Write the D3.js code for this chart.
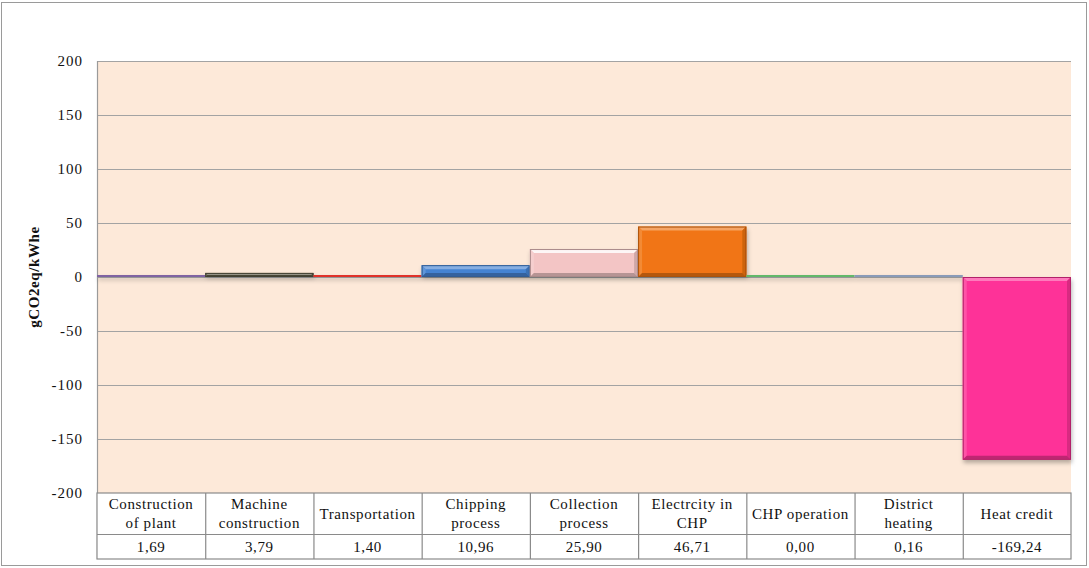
<!DOCTYPE html>
<html>
<head>
<meta charset="utf-8">
<script src="https://cdn.jsdelivr.net/npm/d3@7"></script>
<style>
  html, body { margin: 0; padding: 0; background: #fff; }
  svg { display: block; }
  text { font-family: "Liberation Serif", "Times New Roman", serif; fill: #111; }
</style>
</head>
<body>
<svg id="chart" width="1089" height="568"></svg>
<script>
// Emission contributions per process step (gCO2eq/kWhe)
const categories = [
  "Construction\nof plant", "Machine\nconstruction", "Transportation",
  "Chipping\nprocess", "Collection\nprocess", "Electrcity in\nCHP",
  "CHP operation", "District\nheating", "Heat credit"
];
const values = [1.69, 3.79, 1.40, 10.96, 25.90, 46.71, 0.00, 0.16, -169.24];
const barColors = [
  "#8064a2", "#5f5b47", "#e0322c", "#4583d2", "#f3c5c5",
  "#f17512", "#63b86a", "#8a9bb8", "#fe3398"
];
const yTicks = [-200, -150, -100, -50, 0, 50, 100, 150, 200];
const yTitle = "gCO2eq/kWhe";

const svg = d3.select("#chart");
const W = 1089, H = 568;
const plot = { left: 97, right: 1071, top: 61, bottom: 493 };
const tableRow1 = 41, tableRow2 = 25;

// outer frame
svg.append("rect")
  .attr("x", 1.5).attr("y", 2.5).attr("width", W - 4).attr("height", H - 5)
  .attr("fill", "#fff").attr("stroke", "#9a9a9a").attr("stroke-width", 1);

const x = d3.scaleBand().domain(d3.range(categories.length))
  .range([plot.left, plot.right]).padding(0);
const y = d3.scaleLinear().domain([-200, 200]).range([plot.bottom, plot.top]);

// plot background
svg.append("rect")
  .attr("x", plot.left).attr("y", plot.top)
  .attr("width", plot.right - plot.left).attr("height", plot.bottom - plot.top)
  .attr("fill", "#fde9d9");

// gridlines
svg.append("g").selectAll("line").data(yTicks).join("line")
  .attr("x1", plot.left).attr("x2", plot.right)
  .attr("y1", d => Math.round(y(d)) + 0.5).attr("y2", d => Math.round(y(d)) + 0.5)
  .attr("stroke", "#a3a3a3").attr("stroke-width", 1.2);

// y axis
const yAxis = d3.axisLeft(y).tickValues(yTicks).tickSize(0).tickPadding(14)
  .tickFormat(d => String(d));
const gy = svg.append("g").attr("transform", `translate(${plot.left},0)`).call(yAxis);
gy.select(".domain").remove();
gy.selectAll("text")
  .style("font-family", "'Liberation Serif', 'Times New Roman', serif")
  .style("font-size", "15px").style("letter-spacing", "1px")
  .attr("fill", "#141433");
svg.append("line")
  .attr("x1", plot.left + 0.5).attr("x2", plot.left + 0.5)
  .attr("y1", plot.top).attr("y2", plot.bottom + tableRow1 + tableRow2)
  .attr("stroke", "#9a9a9a").attr("stroke-width", 1.2);

svg.append("text")
  .attr("transform", `translate(39,${y(0)}) rotate(-90)`)
  .attr("text-anchor", "middle")
  .style("font-size", "15px").style("font-weight", "bold").style("letter-spacing", "0.6px")
  .text(yTitle);

// bars with a bevelled edge and soft shadow
const defs = svg.append("defs");
const f = defs.append("filter").attr("id", "shadow")
  .attr("x", "-10%").attr("y", "-10%").attr("width", "130%").attr("height", "140%");
f.append("feDropShadow").attr("dx", 1).attr("dy", 3).attr("stdDeviation", 2)
  .attr("flood-color", "#000").attr("flood-opacity", 0.28);

const bars = svg.append("g").attr("filter", "url(#shadow)");
values.forEach((v, i) => {
  const c = barColors[i];
  const x0 = x(i), x1 = x(i) + x.bandwidth();
  let yt = Math.min(y(v), y(0)), yb = Math.max(y(v), y(0));
  if (yb - yt < 2) yt = yb - 2;
  const h = yb - yt;
  const g = bars.append("g");
  g.append("rect").attr("x", x0).attr("y", yt).attr("width", x1 - x0).attr("height", h)
    .attr("fill", c);
  if (h > 3) {
    const b = Math.min(4, h / 2);
    const light = d3.interpolateRgb(c, "#ffffff")(barColors[i] === "#f3c5c5" ? 0.85 : 0.35);
    const lightS = d3.interpolateRgb(c, "#ffffff")(0.15);
    const dark = d3.interpolateRgb(c, "#000000")(0.25);
    const darkS = d3.interpolateRgb(c, "#000000")(0.15);
    const poly = pts => pts.map(p => p.join(",")).join(" ");
    g.append("polygon").attr("points", poly([[x0, yt], [x1, yt], [x1 - b, yt + b], [x0 + b, yt + b]])).attr("fill", light);
    g.append("polygon").attr("points", poly([[x0, yt], [x0 + b, yt + b], [x0 + b, yb - b], [x0, yb]])).attr("fill", lightS);
    g.append("polygon").attr("points", poly([[x1, yt], [x1, yb], [x1 - b, yb - b], [x1 - b, yt + b]])).attr("fill", darkS);
    g.append("polygon").attr("points", poly([[x0, yb], [x1, yb], [x1 - b, yb - b], [x0 + b, yb - b]])).attr("fill", dark);
    g.append("rect").attr("x", x0 + 0.5).attr("y", yt + 0.5).attr("width", x1 - x0 - 1).attr("height", h - 1)
      .attr("fill", "none").attr("stroke", d3.interpolateRgb(c, "#000")(0.3)).attr("stroke-width", 1);
  }
});

// data table below the plot
const tTop = plot.bottom, tMid = plot.bottom + tableRow1, tBot = tMid + tableRow2;
const table = svg.append("g");
table.append("rect").attr("x", plot.left).attr("y", tTop)
  .attr("width", plot.right - plot.left).attr("height", tBot - tTop)
  .attr("fill", "#fff").attr("stroke", "#8a8a8a").attr("stroke-width", 1.2);
table.append("line").attr("x1", plot.left).attr("x2", plot.right)
  .attr("y1", tMid + 0.5).attr("y2", tMid + 0.5).attr("stroke", "#8a8a8a").attr("stroke-width", 1.2);
table.selectAll("line.div").data(d3.range(1, categories.length)).join("line")
  .attr("class", "div")
  .attr("x1", d => x(d) + 0.5).attr("x2", d => x(d) + 0.5)
  .attr("y1", tTop).attr("y2", tBot)
  .attr("stroke", "#8a8a8a").attr("stroke-width", 1.2);

categories.forEach((cat, i) => {
  const lines = cat.split("\n");
  const cx = x(i) + x.bandwidth() / 2;
  const cy = (tTop + tMid) / 2;
  const lh = 19;
  const t = table.append("text").attr("text-anchor", "middle")
    .style("font-size", "15px").style("letter-spacing", "0.6px");
  lines.forEach((ln, k) => {
    t.append("tspan").attr("x", cx)
      .attr("y", cy + (k - (lines.length - 1) / 2) * lh + 5)
      .text(ln);
  });
});
const fmt = v => d3.format(".2f")(v).replace(".", ",").replace("−", "-");
table.selectAll("text.val").data(values).join("text")
  .attr("class", "val").attr("text-anchor", "middle")
  .style("font-size", "15px").style("letter-spacing", "0.6px")
  .attr("x", (d, i) => x(i) + x.bandwidth() / 2)
  .attr("y", (tMid + tBot) / 2 + 5)
  .text(fmt);
</script>
</body>
</html>
